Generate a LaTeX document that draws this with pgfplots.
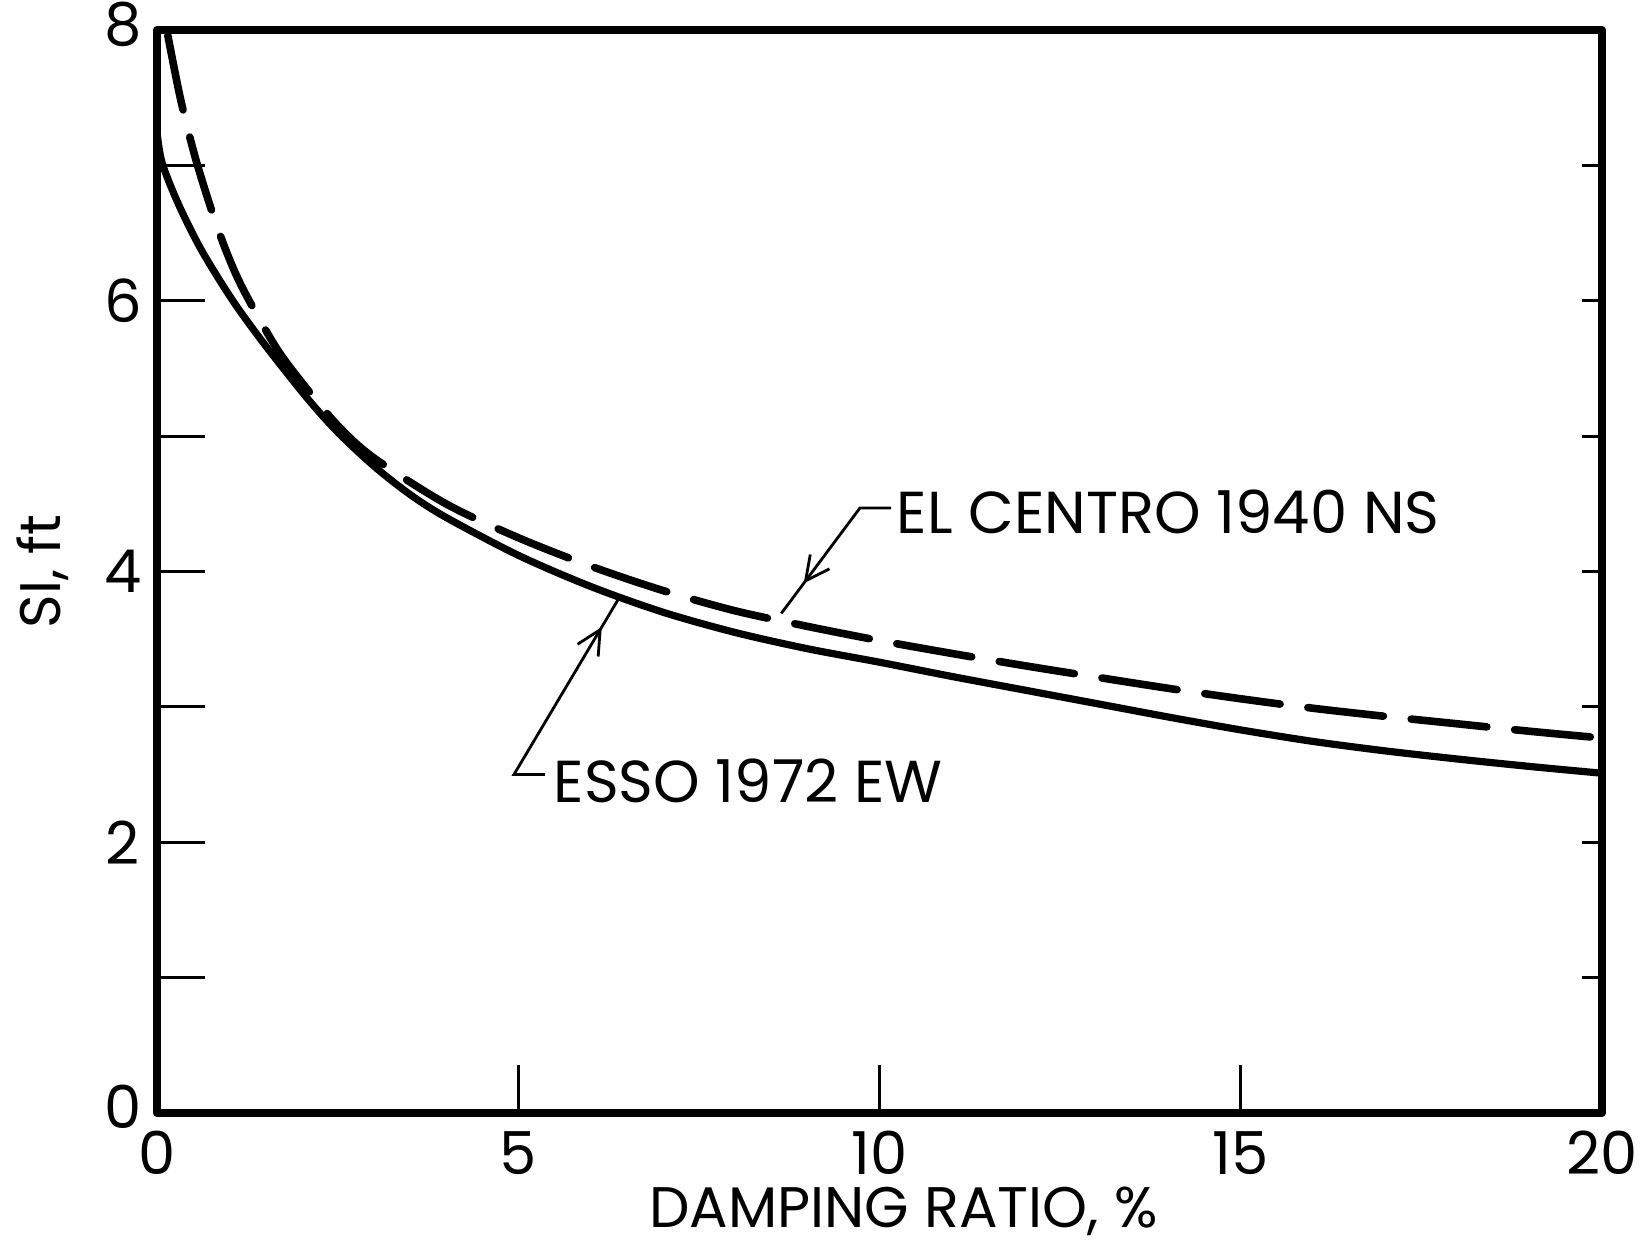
\documentclass[border=0pt]{standalone}
\usepackage{fontspec}
\setmainfont{Poppins}
\usepackage{pgfplots}
\pgfplotsset{compat=1.18}
\usetikzlibrary{arrows.meta,decorations.markings}
\newcommand{\lab}{\fontsize{14.8}{17}\selectfont}
\newcommand{\axl}{\fontsize{14.3}{16}\selectfont}
\begin{document}
\begin{tikzpicture}
\path[use as bounding box] (-39.25pt,-32.5pt) rectangle (371.75pt,278.25pt);
\begin{axis}[
  at={(0,0)}, anchor=south west,
  scale only axis, width=361.25pt, height=270.75pt,
  xmin=0, xmax=20, ymin=0, ymax=8,
  xtick={0,5,10,15,20}, ytick={0,1,2,3,4,5,6,7,8},
  yticklabels={\raisebox{3pt}{0},,2,,4,,6,,\raisebox{3pt}{8}},
  xtick pos=bottom, ytick pos=left,
  tick align=inside,
  major tick length=12pt,
  every tick/.style={black, line width=0.7pt},
  axis line style={line width=2pt, line join=round},
  /pgf/number format/assume math mode=true,
  ticklabel style={font=\lab},
  xticklabel style={anchor=center, yshift=-10pt},
  yticklabel style={anchor=center, xshift=-8.5pt},
  every axis x label/.style={at={(axis description cs:0.5,0)}, anchor=center, inner sep=0pt, xshift=6pt, yshift=-24.5pt, font=\axl},
  every axis y label/.style={at={(axis description cs:-0.079,0.5)}, anchor=center, inner sep=0pt, rotate=90, font=\axl},
  xlabel={DAMPING RATIO, \%},
  ylabel={SI, ft},
  clip=false,
]
% ESSO 1972 EW (solid)
\addplot[black, line width=1.8pt, smooth, tension=0.5] coordinates {
(0,7.25) (0.07,7.02) (0.3,6.71) (0.62,6.37) (1.05,6.0) (1.5,5.67) (2.08,5.28)
(2.5,5.03) (3,4.78) (3.5,4.57) (4,4.40) (5,4.12) (6,3.89) (7,3.70) (8,3.55)
(9,3.43) (10,3.33) (11,3.225) (12,3.125) (13,3.025) (14,2.925) (15,2.83)
(16,2.745) (17,2.675) (18,2.615) (19,2.56) (20,2.51)
};
% EL CENTRO 1940 NS (dashed)
\addplot[black, line width=1.9pt, smooth, tension=0.5, line cap=round, dash pattern=on 19pt off 7pt] coordinates {
(0.15,7.96) (0.33,7.48) (0.55,7.02) (0.85,6.52) (1.15,6.13) (1.63,5.67)
(2.0,5.40) (2.5,5.08) (3,4.84) (4,4.50) (5,4.25) (6,4.04) (7,3.86) (8,3.71)
(9,3.595) (10,3.49) (11,3.395) (12,3.305) (13,3.22) (14,3.137) (15,3.06)
(16,2.99) (17,2.93) (18,2.875) (19,2.82) (20,2.77)
};
% right-side ticks
\pgfplotsinvokeforeach{1,...,7}{
  \draw[line width=0.7pt] (axis cs:20,#1) -- ++(-5pt,0);
}
% annotations
\draw[line width=0.7pt, decoration={markings, mark=at position 0.77 with {\arrow{Straight Barb[length=6pt,width=6pt]}}}, postaction={decorate}]
  (axis cs:10.16,4.47) -- (axis cs:9.73,4.47) -- (axis cs:8.64,3.69);
\node[anchor=west, inner sep=0pt, font=\lab] at (axis cs:10.23,4.44) {EL CENTRO 1940 NS};
\draw[line width=0.7pt, decoration={markings, mark=at position 0.86 with {\arrow{Straight Barb[length=6pt,width=6pt]}}}, postaction={decorate}]
  (axis cs:5.37,2.50) -- (axis cs:4.94,2.50) -- (axis cs:6.39,3.80);
\node[anchor=west, inner sep=0pt, font=\lab] at (axis cs:5.48,2.45) {ESSO 1972 EW};
\end{axis}
\end{tikzpicture}
\end{document}
